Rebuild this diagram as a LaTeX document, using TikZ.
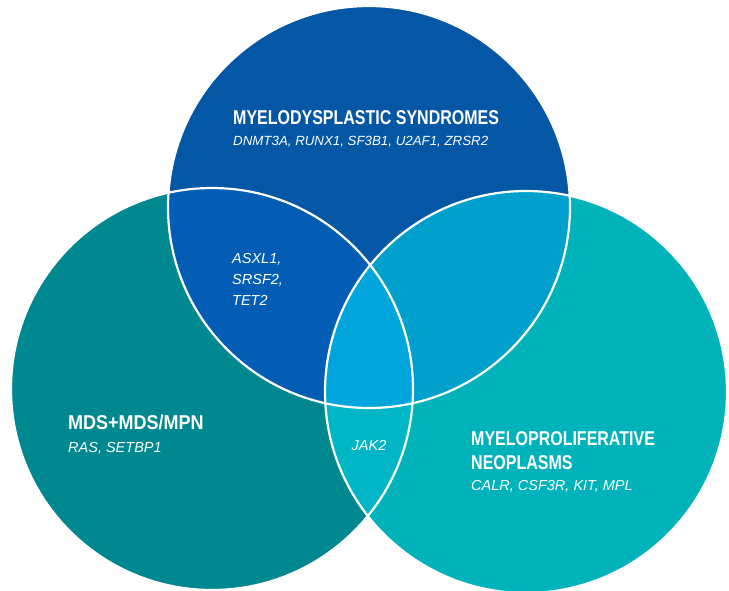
\documentclass[tikz,border=0pt]{standalone}
\usepackage{fontspec}
\setmainfont{Liberation Sans}
\newfontfamily\condfont[FakeStretch=0.8]{Liberation Sans}
\newfontfamily\condfontwide[FakeStretch=0.9]{Liberation Sans}
\definecolor{cTop}{HTML}{0457A5}
\definecolor{cTopLeft}{HTML}{035DB4}
\definecolor{cLeft}{HTML}{008890}
\definecolor{cRight}{HTML}{00B3BA}
\definecolor{cTopRight}{HTML}{00A0CD}
\definecolor{cCenter}{HTML}{00A5DB}
\definecolor{cLeftRight}{HTML}{00B6C6}
\tikzset{
  titletext/.style={text=white, inner sep=0pt, anchor=base west, font=\condfont\bfseries\fontsize{20}{24}\selectfont, align=left},
  genetext/.style={text=white, inner sep=0pt, anchor=base west, font=\itshape\fontsize{14.5}{21}\selectfont, align=left},
  outline/.style={draw=white, line width=2.2pt}
}
\begin{document}
\begin{tikzpicture}[x=1pt,y=-1pt]
\useasboundingbox (0,0) rectangle (729,590);
\def\R{201}
\coordinate (T) at (369,207);
\coordinate (L) at (212,389);
\coordinate (Rt) at (526,392);
% base fills
\fill[cTop] (T) circle (\R);
\fill[cLeft] (L) circle (\R);
\fill[cRight] (Rt) circle (\R);
% pairwise intersections
\begin{scope}
  \clip (T) circle (\R);
  \fill[cTopLeft] (L) circle (\R);
  \fill[cTopRight] (Rt) circle (\R);
\end{scope}
\begin{scope}
  \clip (L) circle (\R);
  \fill[cLeftRight] (Rt) circle (\R);
\end{scope}
\begin{scope}
  \clip (T) circle (\R);
  \clip (L) circle (\R);
  \fill[cCenter] (Rt) circle (\R);
\end{scope}
% outlines
\draw[outline] (T) circle (\R);
\draw[outline] (L) circle (\R);
\draw[outline] (Rt) circle (\R);
% texts (multi-line nodes: base = last line)
\node[titletext] (mdsT) at (233,124) {MYELODYSPLASTIC SYNDROMES};
\node[genetext, font=\itshape\fontsize{13.3}{21}\selectfont] (mdsG) at (233,145) {DNMT3A, RUNX1, SF3B1, U2AF1, ZRSR2};
\node[titletext, font=\condfontwide\bfseries\fontsize{20}{24}\selectfont] (mixT) at (68,429) {MDS+MDS/MPN};
\node[genetext] (mixG) at (68,452) {RAS, SETBP1};
\node[genetext] (tl) at (232,305) {ASXL1,\\SRSF2,\\TET2};
\node[genetext, anchor=base] (lr) at (369,450) {JAK2};
\node[titletext] (mpnT) at (471,469) {MYELOPROLIFERATIVE\\NEOPLASMS};
\node[genetext] (mpnG) at (471,490) {CALR, CSF3R, KIT, MPL};
\end{tikzpicture}
\end{document}
